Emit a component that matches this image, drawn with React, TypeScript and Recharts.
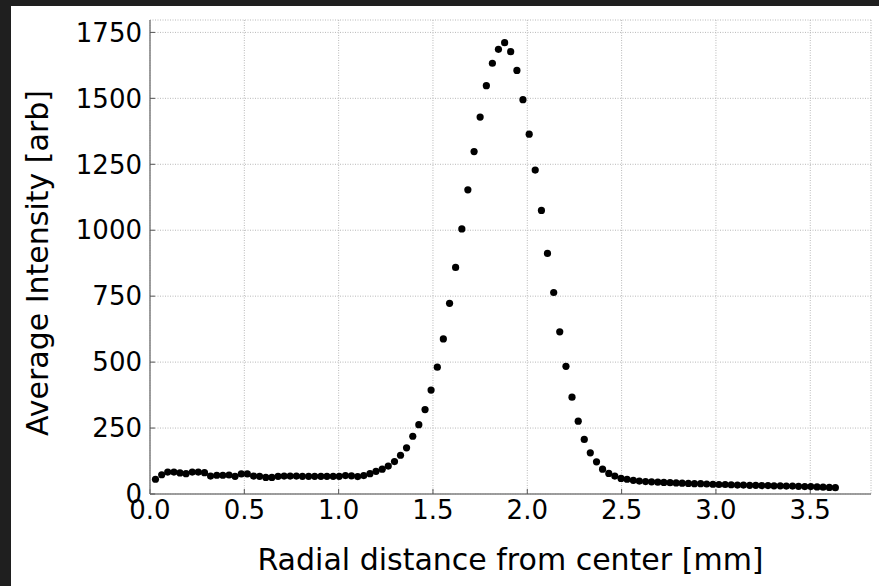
import React from 'react';
import { ScatterChart, Scatter, XAxis, YAxis, CartesianGrid, Label } from 'recharts';

const radius = [
  0.029, 0.062, 0.094, 0.127, 0.159, 0.191, 0.224, 0.256, 0.289, 0.321,
  0.354, 0.386, 0.419, 0.451, 0.484, 0.516, 0.549, 0.581, 0.614, 0.646,
  0.679, 0.711, 0.743, 0.776, 0.808, 0.841, 0.873, 0.906, 0.938, 0.971,
  1.003, 1.036, 1.068, 1.101, 1.133, 1.166, 1.198, 1.231, 1.263, 1.296,
  1.328, 1.36, 1.393, 1.425, 1.458, 1.49, 1.523, 1.555, 1.588, 1.62,
  1.653, 1.685, 1.718, 1.75, 1.783, 1.815, 1.847, 1.88, 1.912, 1.945,
  1.977, 2.01, 2.042, 2.075, 2.107, 2.14, 2.172, 2.205, 2.237, 2.27,
  2.302, 2.334, 2.367, 2.399, 2.432, 2.464, 2.497, 2.529, 2.562, 2.594,
  2.627, 2.659, 2.692, 2.724, 2.757, 2.789, 2.821, 2.854, 2.886, 2.919,
  2.951, 2.984, 3.016, 3.049, 3.081, 3.114, 3.146, 3.179, 3.211, 3.243,
  3.276, 3.308, 3.341, 3.373, 3.406, 3.438, 3.471, 3.503, 3.536, 3.568,
  3.601, 3.633,
];

const intensity = [
  56, 73, 83, 83, 80, 77, 83, 83, 81, 68,
  71, 71, 72, 67, 76, 76, 68, 67, 63, 63,
  67, 68, 68, 68, 67, 67, 67, 67, 67, 67,
  67, 70, 69, 66, 70, 77, 86, 94, 106, 123,
  147, 175, 219, 263, 320, 394, 481, 588, 723, 859,
  1005, 1153, 1298, 1429, 1548, 1633, 1686, 1711, 1677, 1606,
  1495, 1364, 1228, 1075, 912, 764, 615, 484, 367, 276,
  207, 156, 122, 94, 78, 68, 59, 56, 52, 49,
  47, 46, 45, 44, 43, 42, 41, 40, 39, 39,
  38, 37, 36, 36, 35, 34, 34, 33, 33, 32,
  32, 31, 31, 30, 30, 29, 28, 28, 27, 26,
  25, 24,
];

const xTicks = [0, 0.5, 1.0, 1.5, 2.0, 2.5, 3.0, 3.5];
const yTicks = [0, 250, 500, 750, 1000, 1250, 1500, 1750];

const data = radius.map((r, i) => ({ r, v: intensity[i] }));

const font = 'DejaVu Sans';
const tickStyle = { fontSize: 26, fill: '#000', fontFamily: font };
const labelStyle = { fontSize: 30, fill: '#000', fontFamily: font };

const Dot = (props: any) => <circle cx={props.cx} cy={props.cy} r={3.6} fill="#000" />;

export default function App() {
  return (
    <div style={{ position: 'absolute', left: 0, top: 0, width: 879, height: 586, background: '#1f1f1f' }}>
      <div style={{ position: 'absolute', left: 11, top: 6, right: 0, bottom: 0, background: '#fff' }} />
      <div style={{ position: 'absolute', left: 0, top: 0 }}>
        <ScatterChart width={879} height={586} margin={{ top: 20, right: 8, left: 0, bottom: 0 }}>
          <CartesianGrid stroke="#b8b8b8" strokeDasharray="1 1.5" />
          <XAxis
            dataKey="r"
            type="number"
            domain={[0, 3.822]}
            ticks={xTicks}
            tickFormatter={(v: number) => v.toFixed(1)}
            tick={tickStyle}
            tickSize={-5}
            tickMargin={12}
            height={92}
            axisLine={{ stroke: '#808080', strokeWidth: 1.5 }}
            tickLine={{ stroke: '#555' }}
          >
            <Label value="Radial distance from center [mm]" position="insideBottom" offset={16} style={labelStyle} />
          </XAxis>
          <XAxis
            xAxisId="top"
            orientation="top"
            type="number"
            domain={[0, 3.822]}
            ticks={xTicks}
            tick={false}
            tickSize={-5}
            height={0}
            axisLine={{ stroke: '#808080', strokeWidth: 1.5 }}
            tickLine={{ stroke: '#555' }}
          />
          <YAxis
            dataKey="v"
            type="number"
            domain={[0, 1797]}
            ticks={yTicks}
            tick={tickStyle}
            tickSize={-5}
            tickMargin={13}
            width={150}
            axisLine={{ stroke: '#808080', strokeWidth: 1.5 }}
            tickLine={{ stroke: '#555' }}
          >
            <Label
              content={() => (
                <text x={48} y={263} transform="rotate(-90, 48, 263)" textAnchor="middle" style={labelStyle}>
                  Average Intensity [arb]
                </text>
              )}
            />
          </YAxis>
          <YAxis
            yAxisId="right"
            orientation="right"
            type="number"
            domain={[0, 1797]}
            ticks={yTicks}
            tick={false}
            tickSize={-5}
            width={0}
            axisLine={{ stroke: '#808080', strokeWidth: 1.5 }}
            tickLine={{ stroke: '#555' }}
          />
          <Scatter data={data} fill="#000" shape={Dot} isAnimationActive={false} />
        </ScatterChart>
      </div>
    </div>
  );
}
